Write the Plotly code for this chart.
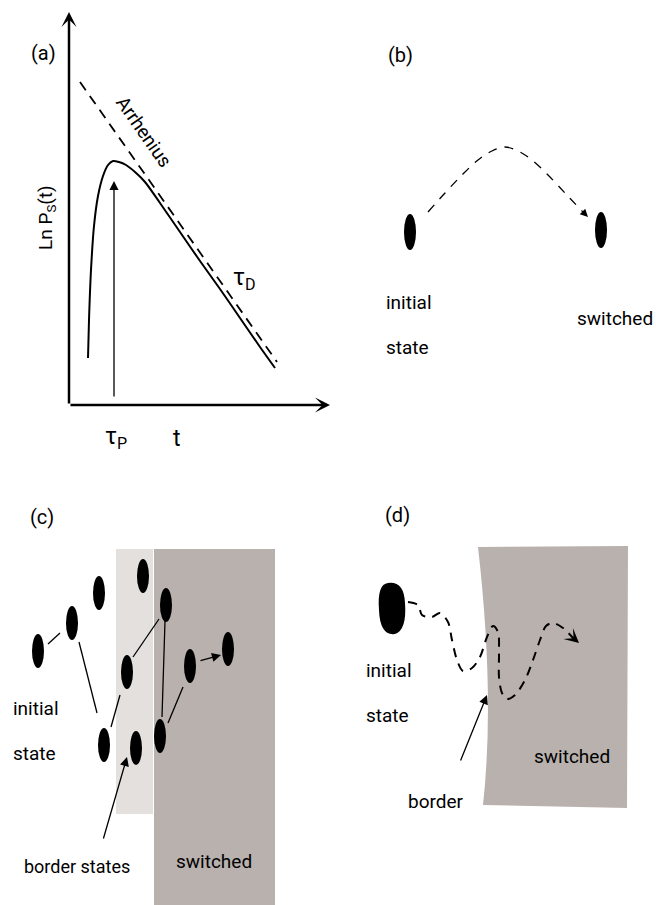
import plotly.graph_objects as go

W, H = 656, 905
FONT = "Roboto, Liberation Sans, sans-serif"

# ---------- panel (a) data ----------
a_dash_x = [80, 277]
a_dash_y = [82, 362]
a_curve_x = [88, 89, 91, 94, 98, 103, 108, 113, 119, 126, 135, 145, 160, 180, 200, 220, 240, 260, 275]
a_curve_y = [358, 320, 270, 226, 196, 176, 165, 161, 162, 165, 172, 182, 203, 232, 261, 289, 318, 347, 368]
a_origin = (69, 405)
a_ytip = (69, 12)
a_xtip = (330, 405)
a_tau_arrow = [(114, 398), (114, 181)]

# ---------- panel (b) data ----------
b_dot_x = [410, 601]
b_dot_y = [232, 230]
b_arc_x = [428, 445, 462, 478, 492, 505, 518, 532, 548, 565, 580]
b_arc_y = [212, 193, 175, 160, 151, 147, 151, 160, 175, 193, 209]
b_arc_head = [(580, 209), (588, 217)]

# ---------- panel (c) data ----------
c_light_rect = [116, 549, 153, 814]
c_dark_rect = [154, 549, 275, 905]
c_dot_x = [38, 72, 99, 143, 166, 127, 190, 228, 104, 136, 160]
c_dot_y = [651, 623, 593, 576, 605, 672, 666, 649, 745, 748, 736]
c_links = [((48, 644), (60, 633)), ((79, 642), (97, 713)), ((111, 727), (120, 695)),
           ((133, 657), (159, 619)), ((165, 621), (162, 717)), ((168, 723), (183, 687))]
c_arrows = [((199, 661), (221, 655)), ((103, 840), (127, 757))]

# ---------- panel (d) data ----------
d_region = [(478, 547), (628, 546), (627, 808), (483, 805)]
d_blob = (392, 608)
d_path_x = [408, 418, 422, 432, 440, 448, 452, 457, 463, 472, 480, 487, 493, 498, 499, 499, 502, 507, 515, 525, 533, 540, 546, 553, 563, 573]
d_path_y = [602, 605, 615, 617, 613, 622, 640, 660, 671, 668, 657, 637, 626, 632, 653, 677, 693, 699, 695, 680, 660, 640, 626, 623, 628, 638]
d_head = [(571, 636), (579, 643)]
d_border_arrow = [(460, 762), (487, 695)]

texts = [
    # text, x, y, size, angle, xanchor
    ("(a)", 43, 53, 20, 0, "center"),
    ("Arrhenius", 144, 131, 19, 55, "center"),
    ("Ln P<sub>S</sub>(t)", 46, 218, 19, -90, "center"),
    ("τ<sub>D</sub>", 244, 279, 23, 0, "center"),
    ("τ<sub>P</sub>", 116, 438, 23, 0, "center"),
    ("t", 177, 438, 23, 0, "center"),
    ("(b)", 400, 55, 20, 0, "center"),
    ("initial", 384, 302, 19, 0, "left"),
    ("state", 384, 347, 19, 0, "left"),
    ("switched", 655, 318, 19, 0, "right"),
    ("(c)", 42, 517, 20, 0, "center"),
    ("initial", 11, 708, 19, 0, "left"),
    ("state", 11, 753, 19, 0, "left"),
    ("border states", 77, 866, 18, 0, "center"),
    ("switched", 214, 861, 19, 0, "center"),
    ("(d)", 397, 515, 20, 0, "center"),
    ("initial", 364, 670, 19, 0, "left"),
    ("state", 364, 715, 19, 0, "left"),
    ("border", 436, 801, 19, 0, "center"),
    ("switched", 572, 756, 19, 0, "center"),
]

fig = go.Figure()
shapes = []
annotations = []


def arrow(tail, head, width, size, style):
    annotations.append(dict(x=head[0], y=head[1], ax=tail[0], ay=tail[1],
                            xref="x", yref="y", axref="x", ayref="y", text="",
                            showarrow=True, arrowhead=style, arrowwidth=width,
                            arrowsize=size, arrowcolor="black"))


# panel (a)
fig.add_trace(go.Scatter(x=a_dash_x, y=a_dash_y, mode="lines",
                         line=dict(color="black", width=1.8, dash="10px,7px")))
fig.add_trace(go.Scatter(x=a_curve_x, y=a_curve_y, mode="lines",
                         line=dict(color="black", width=2, shape="spline", smoothing=0.8)))
arrow(a_origin, a_ytip, 2.5, 1.0, 3)
arrow(a_origin, a_xtip, 2.5, 1.0, 3)
arrow(a_tau_arrow[0], a_tau_arrow[1], 1.3, 1.4, 2)

# panel (c) background
shapes.append(dict(type="rect", x0=c_light_rect[0], y0=c_light_rect[1], x1=c_light_rect[2],
                   y1=c_light_rect[3], fillcolor="#e4e0de", line=dict(width=0), layer="below"))
shapes.append(dict(type="rect", x0=c_dark_rect[0], y0=c_dark_rect[1], x1=c_dark_rect[2],
                   y1=c_dark_rect[3], fillcolor="#b9b1ad", line=dict(width=0), layer="below"))

# panel (d) background
p = d_region
path = (f"M {p[0][0]} {p[0][1]} L {p[1][0]} {p[1][1]} L {p[2][0]} {p[2][1]} "
        f"L {p[3][0]} {p[3][1]} Q {p[3][0]+12} {(p[0][1]+p[3][1])/2+20} {p[0][0]} {p[0][1]} Z")
shapes.append(dict(type="path", path=path, fillcolor="#b9b1ad", line=dict(width=0), layer="below"))


def dot(cx, cy, w, h):
    shapes.append(dict(type="circle", x0=cx - w / 2, x1=cx + w / 2, y0=cy - h / 2, y1=cy + h / 2,
                       fillcolor="black", line=dict(width=0)))


for x, y in zip(b_dot_x, b_dot_y):
    dot(x, y, 12, 36)
for x, y in zip(c_dot_x, c_dot_y):
    dot(x, y, 12, 34)
bx, by = d_blob
shapes.append(dict(type="path",
                   path=(f"M {bx-4} {by-25} Q {bx+12} {by-27} {bx+13} {by-5} "
                         f"Q {bx+15} {by+22} {bx+3} {by+26} Q {bx-12} {by+28} {bx-13} {by+2} "
                         f"Q {bx-15} {by-24} {bx-4} {by-25} Z"),
                   fillcolor="black", line=dict(width=0)))

# panel (b) arc
fig.add_trace(go.Scatter(x=b_arc_x, y=b_arc_y, mode="lines",
                         line=dict(color="black", width=1.3, dash="9px,8px", shape="spline")))
arrow(b_arc_head[0], b_arc_head[1], 1.2, 1.3, 2)

# panel (c) links
for (p0, p1) in c_links:
    fig.add_trace(go.Scatter(x=[p0[0], p1[0]], y=[p0[1], p1[1]], mode="lines",
                             line=dict(color="black", width=1.3)))
for (p0, p1) in c_arrows:
    arrow(p0, p1, 1.3, 1.4, 2)

# panel (d) path
fig.add_trace(go.Scatter(x=d_path_x, y=d_path_y, mode="lines",
                         line=dict(color="black", width=2, dash="9px,7px", shape="spline",
                                   smoothing=0.9)))
arrow(d_head[0], d_head[1], 2, 1.2, 3)
arrow(d_border_arrow[0], d_border_arrow[1], 1.3, 1.4, 2)

for t, x, y, s, ang, xa in texts:
    annotations.append(dict(x=x, y=y, xref="x", yref="y", text=t, showarrow=False,
                            textangle=ang, xanchor=xa,
                            font=dict(family=FONT, size=s, color="black")))

fig.update_layout(
    width=W, height=H, margin=dict(l=0, r=0, t=0, b=0),
    paper_bgcolor="white", plot_bgcolor="white", showlegend=False,
    xaxis=dict(range=[0, W], visible=False, fixedrange=True),
    yaxis=dict(range=[H, 0], visible=False, fixedrange=True),
    shapes=shapes, annotations=annotations,
)
fig.write_html("out.html")
